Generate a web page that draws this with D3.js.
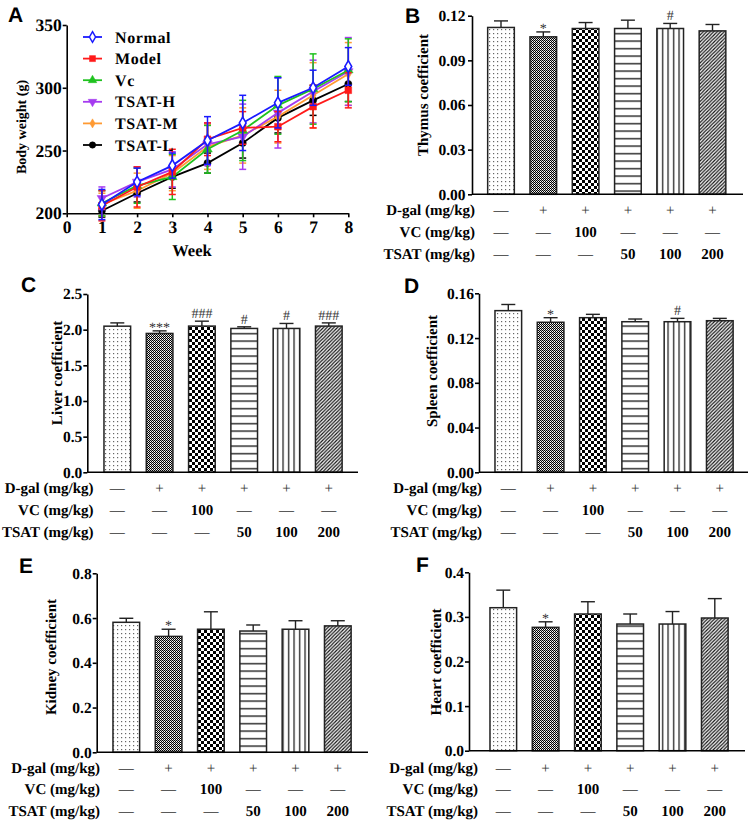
<!DOCTYPE html>
<html><head><meta charset="utf-8">
<script src="https://cdn.jsdelivr.net/npm/d3@7"></script>
<style>body{margin:0;background:#fff}svg{display:block}text{text-rendering:geometricPrecision}</style>
</head><body>
<svg id="c" width="750" height="820" style="opacity:0.999"></svg>
<script>
// ---------- DATA ----------
const weeks = [1, 2, 3, 4, 5, 6, 7, 8];
const seriesNames = ["Normal", "Model", "Vc", "TSAT-H", "TSAT-M", "TSAT-L"];
const normalBW = [207, 225, 238, 258, 272, 288, 300, 317];
const modelBW  = [206, 221, 233, 259, 268, 269, 285, 298];
const vcBW     = [208, 222, 229, 251, 266, 286, 299, 314];
const tsatHBW  = [212, 225, 235, 255, 261, 280, 297, 313];
const tsatMBW  = [207, 218, 232, 253, 262, 277, 294, 311];
const tsatLBW  = [202, 216, 229, 240, 256, 276, 290, 303];
const normalSD = [12, 11, 10, 19, 22, 20, 14, 15];
const modelSD  = [12, 16, 18, 13, 13, 12, 17, 14];
const vcSD     = [10, 14, 18, 19, 24, 23, 28, 25];
const tsatHSD  = [9, 12, 14, 17, 26, 28, 25, 27];
const tsatMSD  = [9, 14, 14, 18, 22, 21, 26, 25];
const tsatLSD  = [5, 7, 9, 8, 12, 12, 12, 14];
const bwTicksY = [200, 250, 300, 350];
const bwTicksX = [0, 1, 2, 3, 4, 5, 6, 7, 8];

const groups = ["Normal", "Model", "VC", "TSAT-50", "TSAT-100", "TSAT-200"];
const thymus    = [0.1121, 0.1058, 0.1114, 0.1114, 0.1114, 0.1098];
const thymusErr = [0.0044, 0.0033, 0.0040, 0.0056, 0.0034, 0.0043];
const thymusSig = ["", "*", "", "", "#", ""];
const thymusTicks = [0, 0.03, 0.06, 0.09, 0.12];

const liver    = [2.049, 1.947, 2.050, 2.017, 2.017, 2.050];
const liverErr = [0.046, 0.036, 0.069, 0.023, 0.070, 0.045];
const liverSig = ["", "***", "###", "#", "#", "###"];
const liverTicks = [0, 0.5, 1.0, 1.5, 2.0, 2.5];

const spleen    = [0.1445, 0.1341, 0.1382, 0.1346, 0.1346, 0.1355];
const spleenErr = [0.0055, 0.0041, 0.0030, 0.0024, 0.0030, 0.0021];
const spleenSig = ["", "*", "", "", "#", ""];
const spleenTicks = [0, 0.04, 0.08, 0.12, 0.16];

const kidney    = [0.581, 0.518, 0.550, 0.542, 0.550, 0.565];
const kidneyErr = [0.018, 0.032, 0.078, 0.027, 0.038, 0.023];
const kidneySig = ["", "*", "", "", "", ""];
const kidneyTicks = [0, 0.2, 0.4, 0.6, 0.8];

const heart    = [0.3206, 0.2766, 0.3065, 0.2840, 0.2840, 0.2975];
const heartErr = [0.0394, 0.0124, 0.0275, 0.0225, 0.0280, 0.0435];
const heartSig = ["", "*", "", "", "", ""];
const heartTicks = [0, 0.1, 0.2, 0.3, 0.4];

const rowLabels = ["D-gal (mg/kg)", "VC (mg/kg)", "TSAT (mg/kg)"];
const dgalRow = ["—", "+", "+", "+", "+", "+"];
const vcRow   = ["—", "—", "100", "—", "—", "—"];
const tsatRow = ["—", "—", "—", "50", "100", "200"];

// ---------- SETUP ----------
const SERIF = "'Liberation Serif','Times New Roman',serif";
const SANS = "'Liberation Sans',Arial,sans-serif";
const svg = d3.select("#c");
const defs = svg.append("defs");

function pat(id, w, h, draw) {
  const p = defs.append("pattern").attr("id", id)
    .attr("patternUnits", "userSpaceOnUse").attr("width", w).attr("height", h);
  p.append("rect").attr("width", w).attr("height", h).attr("fill", "#fff");
  draw(p);
}
pat("p0", 4, 4, p => p.append("rect").attr("x", 1).attr("y", 1).attr("width", 1.2).attr("height", 1.2).attr("fill", "#666"));
pat("p1", 2, 2, p => {
  p.append("rect").attr("width", 1).attr("height", 1).attr("fill", "#000");
  p.append("rect").attr("x", 1).attr("y", 1).attr("width", 1).attr("height", 1).attr("fill", "#000");
  p.append("rect").attr("x", 1).attr("y", 0).attr("width", 1).attr("height", 1).attr("fill", "#bbb");
});
pat("p2", 6, 6, p => {
  p.append("rect").attr("width", 3).attr("height", 3).attr("fill", "#000");
  p.append("rect").attr("x", 3).attr("y", 3).attr("width", 3).attr("height", 3).attr("fill", "#000");
});
pat("p3", 8, 7.5, p => p.append("rect").attr("y", 3).attr("width", 8).attr("height", 1.3).attr("fill", "#111"));
pat("p4", 5.5, 8, p => p.append("rect").attr("x", 2).attr("width", 1.2).attr("height", 8).attr("fill", "#111"));
pat("p5", 3.5, 3.5, p => p.append("path").attr("d", "M-1,1 L1,-1 M0,3.5 L3.5,0 M2.5,4.5 L4.5,2.5")
  .attr("stroke", "#111").attr("stroke-width", 1.2));
const patterns = ["url(#p0)", "url(#p1)", "url(#p2)", "url(#p3)", "url(#p4)", "url(#p5)"];

function styleAxis(g, fs) {
  g.attr("font-family", SERIF).attr("font-size", fs);
  g.selectAll("path,line").attr("stroke", "#000").attr("stroke-width", 1.6);
  g.selectAll("text").attr("font-family", SERIF).attr("font-weight", "bold")
    .attr("font-size", fs).attr("fill", "#000");
}

// ---------- PANEL A ----------
(function () {
  const g = svg.append("g");
  const x = d3.scaleLinear().domain([0, 8]).range([66.7, 348.3]);
  const y = d3.scaleLinear().domain([200, 350]).range([213.3, 25]);
  const ya = g.append("g").attr("transform", "translate(66.7,0)")
    .call(d3.axisLeft(y).tickValues(bwTicksY).tickSize(4).tickSizeOuter(0).tickPadding(1));
  styleAxis(ya, 17.5);
  const xa = g.append("g").attr("transform", "translate(0,213.3)")
    .call(d3.axisBottom(x).tickValues(bwTicksX).tickSize(4).tickSizeOuter(0).tickPadding(3));
  styleAxis(xa, 17.5);

  g.append("text").attr("x", 8).attr("y", 22).text("A")
    .attr("font-family", SANS).attr("font-weight", "bold").attr("font-size", 21);
  g.append("text").attr("transform", "translate(26,127) rotate(-90)").attr("text-anchor", "middle")
    .attr("font-family", SERIF).attr("font-weight", "bold").attr("font-size", 14).text("Body weight (g)");
  g.append("text").attr("x", 192).attr("y", 256).attr("text-anchor", "middle")
    .attr("font-family", SERIF).attr("font-weight", "bold").attr("font-size", 16.5).text("Week");

  const vals = [normalBW, modelBW, vcBW, tsatHBW, tsatMBW, tsatLBW];
  const sds = [normalSD, modelSD, vcSD, tsatHSD, tsatMSD, tsatLSD];
  const colors = ["#1a1aff", "#ff1a1a", "#1fc21f", "#a53bf0", "#ff9a33", "#000000"];
  const syms = [
    { t: d3.symbolDiamond, s: 40, fill: "#fff", rot: 0 },
    { t: d3.symbolSquare, s: 45, fill: null, rot: 0 },
    { t: d3.symbolTriangle, s: 40, fill: null, rot: 0 },
    { t: d3.symbolTriangle, s: 40, fill: null, rot: 180 },
    { t: d3.symbolDiamond, s: 30, fill: null, rot: 0 },
    { t: d3.symbolCircle, s: 40, fill: null, rot: 0 }
  ];
  const line = d3.line().x((d, i) => x(weeks[i])).y(d => y(d));

  for (let k = 5; k >= 0; k--) {
    const s = g.append("g");
    const c = colors[k];
    weeks.forEach((w, i) => {
      const xm = x(w), top = y(vals[k][i] + sds[k][i]), bot = y(vals[k][i] - sds[k][i]);
      s.append("line").attr("x1", xm).attr("x2", xm).attr("y1", top).attr("y2", bot).attr("stroke", c).attr("stroke-width", 1.5);
      s.append("line").attr("x1", xm - 3.5).attr("x2", xm + 3.5).attr("y1", top).attr("y2", top).attr("stroke", c).attr("stroke-width", 1.5);
      s.append("line").attr("x1", xm - 3.5).attr("x2", xm + 3.5).attr("y1", bot).attr("y2", bot).attr("stroke", c).attr("stroke-width", 1.5);
    });
    s.append("path").attr("d", line(vals[k])).attr("fill", "none").attr("stroke", c).attr("stroke-width", 1.8);
    const sy = syms[k];
    weeks.forEach((w, i) => {
      s.append("path").attr("d", d3.symbol().type(sy.t).size(sy.s)())
        .attr("transform", `translate(${x(w)},${y(vals[k][i])}) rotate(${sy.rot})`)
        .attr("fill", sy.fill || c).attr("stroke", c).attr("stroke-width", sy.fill ? 1.6 : 0.5);
    });
  }

  // legend
  const ly = d3.scalePoint().domain(seriesNames).range([37, 145]);
  seriesNames.forEach((n, k) => {
    const yy = ly(n), c = colors[k], sy = syms[k];
    g.append("line").attr("x1", 83).attr("x2", 102).attr("y1", yy).attr("y2", yy).attr("stroke", c).attr("stroke-width", 1.8);
    g.append("path").attr("d", d3.symbol().type(sy.t).size(sy.s * 0.8)())
      .attr("transform", `translate(92.5,${yy}) rotate(${sy.rot})`)
      .attr("fill", sy.fill || c).attr("stroke", c).attr("stroke-width", sy.fill ? 1.5 : 0.5);
    g.append("text").attr("x", 115).attr("y", yy + 5.5).text(n)
      .attr("font-family", SERIF).attr("font-weight", "bold").attr("font-size", 16).attr("letter-spacing", 0.6);
  });
})();

// ---------- BAR PANELS ----------
function barPanel(cfg) {
  const g = svg.append("g");
  const y = d3.scaleLinear().domain([0, cfg.max]).range([cfg.y0, cfg.y1]);
  const x = d3.scaleBand().domain(groups).range([cfg.b0, cfg.b0 + 6 * 42.3]).paddingInner(0.37).paddingOuter(0.185);
  const bw = x.bandwidth();

  groups.forEach((gr, i) => {
    const v = cfg.vals[i], e = cfg.err[i];
    const xl = x(gr), xm = xl + bw / 2;
    g.append("line").attr("x1", xm).attr("x2", xm).attr("y1", y(v)).attr("y2", y(v + e)).attr("stroke", "#222").attr("stroke-width", 1.4);
    g.append("line").attr("x1", xm - 7).attr("x2", xm + 7).attr("y1", y(v + e)).attr("y2", y(v + e)).attr("stroke", "#222").attr("stroke-width", 1.4);
    g.append("rect").attr("x", xl).attr("y", y(v)).attr("width", bw).attr("height", cfg.y0 - y(v))
      .attr("fill", patterns[i]).attr("stroke", "#222").attr("stroke-width", 1.5);
    const s = cfg.sig[i];
    if (s) {
      const star = s[0] === "*";
      g.append("text").attr("x", xm).attr("y", y(v + e) + (star ? 1 : -3)).attr("text-anchor", "middle")
        .attr("font-family", SERIF).attr("font-size", 14).attr("fill", "#333").text(s);
    }
  });

  const ya = g.append("g").attr("transform", `translate(${cfg.ax},0)`)
    .call(d3.axisLeft(y).tickValues(cfg.ticks).tickSize(4).tickSizeOuter(0).tickPadding(cfg.pad).tickFormat(d3.format(cfg.fmt)));
  styleAxis(ya, 15.5);
  g.append("line").attr("x1", cfg.ax).attr("x2", cfg.xEnd).attr("y1", cfg.y0).attr("y2", cfg.y0)
    .attr("stroke", "#000").attr("stroke-width", 1.6);

  g.append("text").attr("x", cfg.letter[0]).attr("y", cfg.letter[1]).text(cfg.L)
    .attr("font-family", SANS).attr("font-weight", "bold").attr("font-size", 21);
  g.append("text").attr("transform", `translate(${cfg.lx},${cfg.ly}) rotate(-90)`).attr("text-anchor", "middle")
    .attr("font-family", SERIF).attr("font-weight", "bold").attr("font-size", 15).text(cfg.label);

  const rows = [dgalRow, vcRow, tsatRow];
  rows.forEach((row, r) => {
    const yy = cfg.rows[r];
    g.append("text").attr("x", cfg.rx).attr("y", yy + 5.5).attr("text-anchor", "end")
      .attr("font-family", SERIF).attr("font-weight", "bold").attr("font-size", 15).text(rowLabels[r]);
    row.forEach((t, i) => {
      const xm = x(groups[i]) + bw / 2;
      const isSym = t === "—" || t === "+";
      g.append("text").attr("x", xm).attr("y", yy + 5.5).attr("text-anchor", "middle")
        .attr("font-family", SERIF).attr("font-weight", isSym ? "normal" : "bold")
        .attr("font-size", 15).attr("fill", isSym ? "#333" : "#000").text(t);
    });
  });
}

barPanel({ L: "B", vals: thymus, err: thymusErr, sig: thymusSig, ticks: thymusTicks, fmt: ".2f", max: 0.12, pad: 2.5,
  y0: 194.3, y1: 15.7, b0: 479.85, ax: 472, xEnd: 743, letter: [405, 23], lx: 428, ly: 95,
  label: "Thymus coefficient", rows: [209.3, 231, 253.3], rx: 475 });
barPanel({ L: "C", vals: liver, err: liverErr, sig: liverSig, ticks: liverTicks, fmt: ".1f", max: 2.5, pad: 1,
  y0: 472.3, y1: 294, b0: 96.15, ax: 87.3, xEnd: 358, letter: [21, 292], lx: 62, ly: 373,
  label: "Liver coefficient", rows: [487.5, 509, 531], rx: 93.5 });
barPanel({ L: "D", vals: spleen, err: spleenErr, sig: spleenSig, ticks: spleenTicks, fmt: ".2f", max: 0.16, pad: 1,
  y0: 472.3, y1: 293.3, b0: 487.15, ax: 479, xEnd: 748, letter: [404, 293], lx: 437, ly: 371,
  label: "Spleen coefficient", rows: [487.5, 509, 531], rx: 482 });
barPanel({ L: "E", vals: kidney, err: kidneyErr, sig: kidneySig, ticks: kidneyTicks, fmt: ".1f", max: 0.8, pad: 1,
  y0: 752.3, y1: 573.3, b0: 105.15, ax: 96.7, xEnd: 368, letter: [19, 573], lx: 56, ly: 657,
  label: "Kidney coefficient", rows: [767.5, 788.3, 810.7], rx: 100 });
barPanel({ L: "F", vals: heart, err: heartErr, sig: heartSig, ticks: heartTicks, fmt: ".1f", max: 0.4, pad: 1,
  y0: 750.7, y1: 572.3, b0: 482.15, ax: 469, xEnd: 745, letter: [416, 572], lx: 441, ly: 662,
  label: "Heart coefficient", rows: [767.5, 788.3, 810.7], rx: 478 });
</script>
</body></html>
